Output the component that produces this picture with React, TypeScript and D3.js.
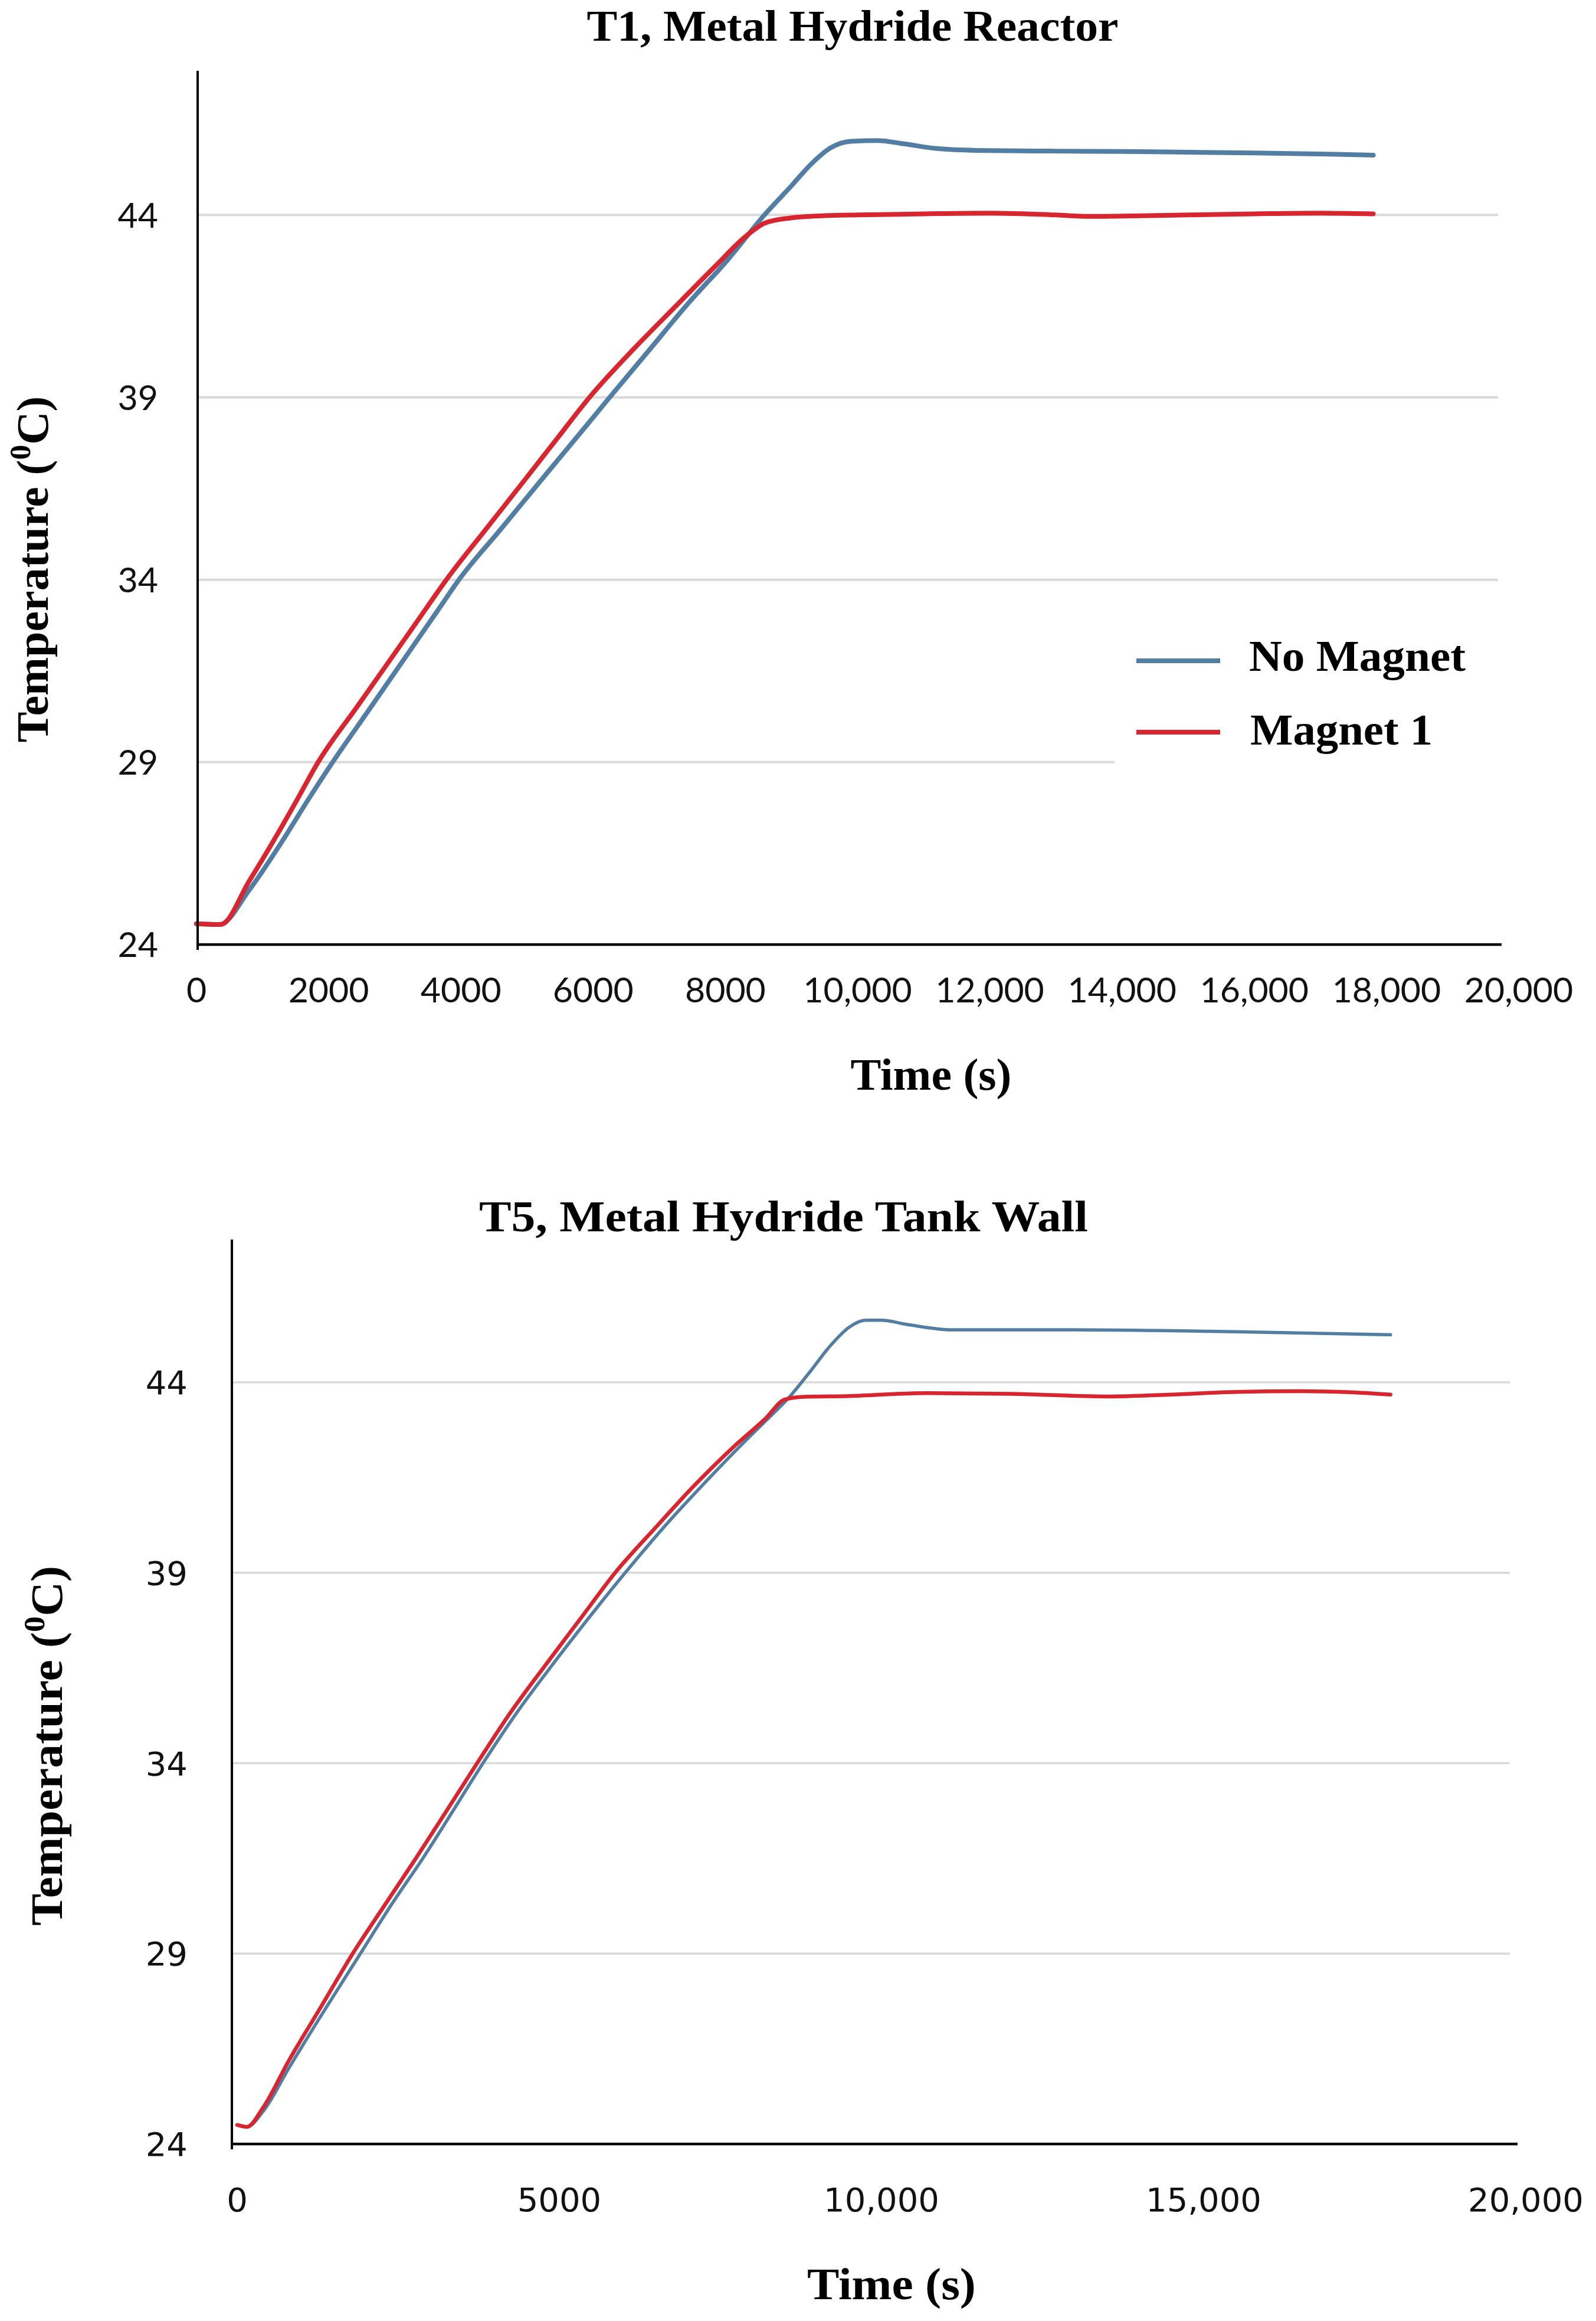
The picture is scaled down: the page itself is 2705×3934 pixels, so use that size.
import React from "react";
import * as d3 from "d3";

// ---------------- DATA ----------------
// Chart 1: T1, Metal Hydride Reactor
const t1Time_noMagnet = [0, 350, 800, 1250, 1700, 2060, 2600, 3200, 3650, 3970, 4600, 5300, 5900, 6250, 6850, 7450, 8050, 8590, 9000, 9300, 9600, 9900, 10300, 10700, 11200, 11800, 13000, 14000, 15000, 16000, 17000, 17800];
const t1Temp_noMagnet = [24.57, 24.55, 25.5, 26.7, 28.0, 29.0, 30.41, 31.98, 33.16, 34.0, 35.38, 36.92, 38.23, 39.0, 40.3, 41.6, 42.8, 44.0, 44.8, 45.4, 45.85, 46.02, 46.04, 45.95, 45.82, 45.77, 45.75, 45.74, 45.72, 45.7, 45.67, 45.64];
const t1Time_magnet1 = [0, 366, 800, 1200, 1500, 1840, 2430, 3040, 3400, 3780, 4380, 4980, 5450, 5945, 6600, 7250, 7850, 8300, 8600, 9000, 9500, 10000, 11000, 12000, 13000, 13500, 14000, 15000, 16000, 17000, 17800];
const t1Temp_magnet1 = [24.57, 24.55, 25.75, 26.95, 27.9, 29.0, 30.52, 32.09, 33.02, 34.0, 35.39, 36.77, 37.86, 39.0, 40.3, 41.5, 42.6, 43.4, 43.78, 43.92, 43.98, 44.0, 44.03, 44.05, 44.0, 43.96, 43.97, 44.0, 44.03, 44.05, 44.03];

// Chart 2: T5, Metal Hydride Tank Wall
const t5Time_noMagnet = [0, 150, 400, 805, 1350, 1912, 2400, 2900, 3350, 3815, 4350, 4900, 5450, 6022, 6650, 7250, 7850, 8300, 8563, 8900, 9200, 9500, 9750, 10000, 10400, 11100, 13000, 15500, 17900];
const t5Temp_noMagnet = [24.5, 24.45, 24.85, 26.0, 27.5, 29.0, 30.3, 31.55, 32.75, 34.0, 35.35, 36.6, 37.8, 39.0, 40.25, 41.35, 42.4, 43.15, 43.6, 44.3, 44.95, 45.45, 45.63, 45.63, 45.52, 45.38, 45.38, 45.33, 45.25];
const t5Time_magnet1 = [0, 150, 400, 805, 1300, 1793, 2300, 2773, 3250, 3724, 4250, 4795, 5330, 5866, 6500, 7100, 7700, 8200, 8500, 8800, 9500, 10700, 12000, 13500, 14500, 15500, 16500, 17400, 17900];
const t5Temp_magnet1 = [24.5, 24.45, 24.95, 26.2, 27.6, 29.0, 30.3, 31.5, 32.75, 34.0, 35.35, 36.6, 37.8, 39.0, 40.2, 41.3, 42.3, 43.05, 43.55, 43.62, 43.64, 43.72, 43.7, 43.63, 43.68, 43.75, 43.77, 43.73, 43.68];

const yTicks = [24, 29, 34, 39, 44];
const t1XTicks = [0, 2000, 4000, 6000, 8000, 10000, 12000, 14000, 16000, 18000, 20000];
const t1XTickLabels = ["0", "2000", "4000", "6000", "8000", "10,000", "12,000", "14,000", "16,000", "18,000", "20,000"];
const t5XTicks = [0, 5000, 10000, 15000, 20000];
const t5XTickLabels = ["0", "5000", "10,000", "15,000", "20,000"];

const seriesNames = ["No Magnet", "Magnet 1"];
const titles = ["T1, Metal Hydride Reactor", "T5, Metal Hydride Tank Wall"];

// ---------------- STYLE ----------------
const BLUE = "#527ea3";
const RED = "#d7262f";
const GRID = "#d9d9d9";
const SERIF = "'Liberation Serif', 'DejaVu Serif', serif";

type Cfg = {
  title: string;
  titleX: number; titleY: number; titleLen: number; titleSize: number;
  xTicks: number[]; xLabels: string[];
  xRange: [number, number]; yDomain: [number, number]; yRange: [number, number];
  axisX: number; axisTop: number; axisRight: number; gridRight: number;
  tickFont: string; tickSize: number; yLabelX: number; xLabelY: number;
  xTitleX: number; xTitleY: number; xTitleLen: number;
  yTitleX: number; yTitleY: number; yTitleLen: number;
  blueW: number; redW: number; gridW: number;
  blue: { t: number[]; v: number[] }; red: { t: number[]; v: number[] };
  legend: boolean;
};

function Chart({ c }: { c: Cfg }) {
  const x = d3.scaleLinear().domain([0, 20000]).range(c.xRange);
  const y = d3.scaleLinear().domain(c.yDomain).range(c.yRange);
  const gen = d3
    .line<[number, number]>()
    .x((d) => x(d[0]))
    .y((d) => y(d[1]))
    .curve(d3.curveMonotoneX);
  const bluePts = c.blue.t.map((t, i) => [t, c.blue.v[i]] as [number, number]);
  const redPts = c.red.t.map((t, i) => [t, c.red.v[i]] as [number, number]);
  const y0 = y(c.yDomain[0]);
  return (
    <g>
      <text x={c.titleX} y={c.titleY} textAnchor="middle" fontFamily={SERIF} fontWeight="bold" fontSize={c.titleSize} fill="#000" textLength={c.titleLen} lengthAdjust="spacingAndGlyphs">{c.title}</text>
      {yTicks.slice(1).map((v) => (
        <line key={"g" + v} x1={c.axisX} x2={c.gridRight} y1={y(v)} y2={y(v)} stroke={GRID} strokeWidth={c.gridW} />
      ))}
      {c.legend && (
        <g>
          <rect x={1889} y={1045} width={680} height={265} fill="#fff" />
          <line x1={1926} x2={2068} y1={1120} y2={1120} stroke={BLUE} strokeWidth={8} />
          <line x1={1926} x2={2068} y1={1241} y2={1241} stroke={RED} strokeWidth={8} />
          <text x={2117} y={1137} fontFamily={SERIF} fontWeight="bold" fontSize={75} textLength={367} lengthAdjust="spacingAndGlyphs">{seriesNames[0]}</text>
          <text x={2119} y={1262} fontFamily={SERIF} fontWeight="bold" fontSize={75} textLength={309} lengthAdjust="spacingAndGlyphs">{seriesNames[1]}</text>
        </g>
      )}
      <path d={gen(bluePts) || ""} fill="none" stroke={BLUE} strokeWidth={c.blueW} strokeLinejoin="round" strokeLinecap="round" />
      <path d={gen(redPts) || ""} fill="none" stroke={RED} strokeWidth={c.redW} strokeLinejoin="round" strokeLinecap="round" />
      <line x1={c.axisX} x2={c.axisX} y1={c.axisTop} y2={y0 + 9} stroke="#000" strokeWidth={4} />
      <line x1={c.axisX} x2={c.axisRight} y1={y0} y2={y0} stroke="#000" strokeWidth={4.5} />
      {yTicks.map((v) => (
        <text key={"yl" + v} x={c.yLabelX} y={y(v)} dy="0.36em" textAnchor="end" fontFamily={c.tickFont} fontSize={c.tickSize} fill="#111">{v}</text>
      ))}
      {c.xTicks.map((v, i) => (
        <text key={"xl" + v} x={x(v)} y={c.xLabelY} dy="0.36em" textAnchor="middle" fontFamily={c.tickFont} fontSize={c.tickSize} fill="#111">{c.xLabels[i]}</text>
      ))}
      <text x={c.xTitleX} y={c.xTitleY} textAnchor="middle" fontFamily={SERIF} fontWeight="bold" fontSize={76} textLength={c.xTitleLen} lengthAdjust="spacingAndGlyphs">Time (s)</text>
      <text transform={`translate(${c.yTitleX},${c.yTitleY}) rotate(-90)`} textAnchor="middle" fontFamily={SERIF} fontWeight="bold" fontSize={76} textLength={c.yTitleLen} lengthAdjust="spacingAndGlyphs">
        Temperature (<tspan fontSize={50} dy={-30}>0</tspan><tspan dy={30}>C)</tspan>
      </text>
    </g>
  );
}

const cfgTop: Cfg = {
  title: titles[0], titleX: 1445, titleY: 69, titleLen: 901, titleSize: 74,
  xTicks: t1XTicks, xLabels: t1XTickLabels,
  xRange: [333, 2574], yDomain: [24, 48], yRange: [1601, 117],
  axisX: 335, axisTop: 120, axisRight: 2545, gridRight: 2539,
  tickFont: "Lato, 'Open Sans', sans-serif", tickSize: 59, yLabelX: 268, xLabelY: 1678,
  xTitleX: 1578, xTitleY: 1847, xTitleLen: 273,
  yTitleX: 81, yTitleY: 965, yTitleLen: 587,
  blueW: 8, redW: 8, gridW: 4,
  blue: { t: t1Time_noMagnet, v: t1Temp_noMagnet },
  red: { t: t1Time_magnet1, v: t1Temp_magnet1 },
  legend: true,
};

const cfgBottom: Cfg = {
  title: titles[1], titleX: 1328, titleY: 2087, titleLen: 1032, titleSize: 74,
  xTicks: t5XTicks, xLabels: t5XTickLabels,
  xRange: [402, 2586], yDomain: [24, 47.75], yRange: [3634, 2101],
  axisX: 393, axisTop: 2101, axisRight: 2572, gridRight: 2559,
  tickFont: "'DejaVu Sans', Verdana, sans-serif", tickSize: 56, yLabelX: 318, xLabelY: 3728,
  xTitleX: 1511, xTitleY: 3897, xTitleLen: 286,
  yTitleX: 105, yTitleY: 2959, yTitleLen: 610,
  blueW: 5.5, redW: 6.5, gridW: 3.5,
  blue: { t: t5Time_noMagnet, v: t5Temp_noMagnet },
  red: { t: t5Time_magnet1, v: t5Temp_magnet1 },
  legend: false,
};

export default function App() {
  return (
    <svg width={2705} height={3934} viewBox="0 0 2705 3934" style={{ position: "absolute", left: 0, top: 0, background: "#fff" }}>
      <rect x={0} y={0} width={2705} height={3934} fill="#fff" />
      <Chart c={cfgTop} />
      <Chart c={cfgBottom} />
    </svg>
  );
}
